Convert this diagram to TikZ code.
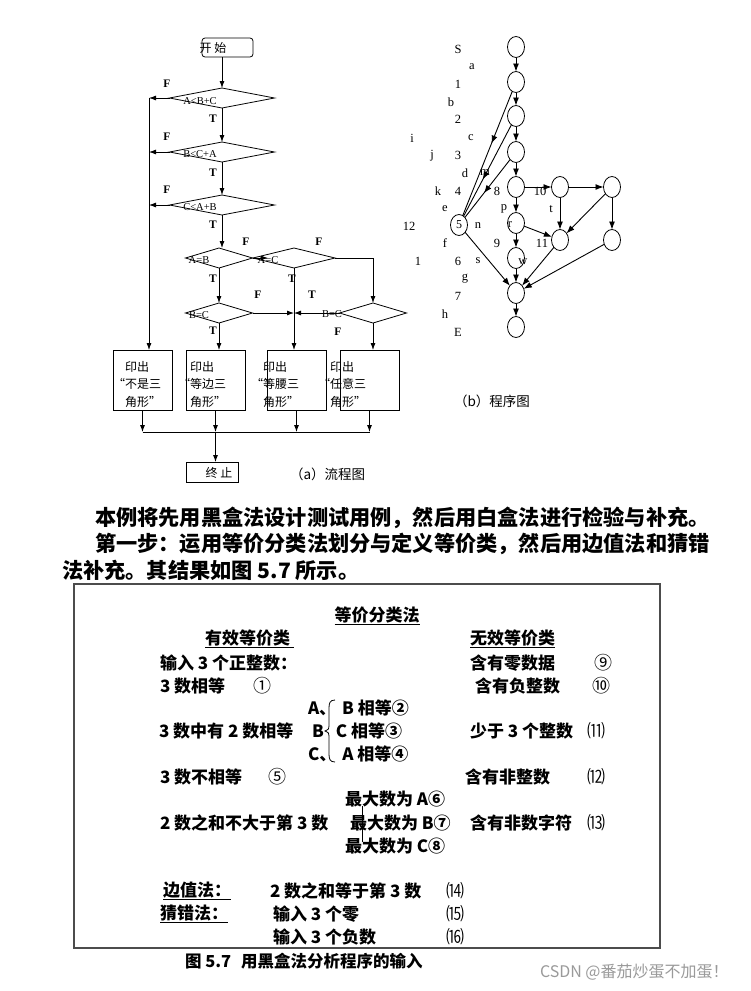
\documentclass[tikz,border=0pt]{standalone}
\usepackage{fontspec}
\setmainfont{Liberation Serif}
\newfontfamily\cjk{Noto Sans CJK SC}
\usetikzlibrary{arrows.meta,shapes.geometric,decorations.markings}
\definecolor{wmgray}{HTML}{9A9A9A}
\newcommand{\outtxt}[2]{印出\\\llap{“}#1\\#2”}

\begin{document}
\begin{tikzpicture}[x=1pt, y=-1pt,
  every node/.style={inner sep=0pt, outer sep=0pt},
  arr/.style={-{Latex[length=7pt,width=5pt]}, line width=0.8pt},
  garr/.style={-{Latex[length=8pt,width=6pt]}, line width=0.9pt},
  midarr/.style={line width=0.9pt, postaction={decorate}, decoration={markings, mark=at position #1 with {\arrow{Latex[length=8pt,width=6pt]}}}},
  cond/.style={draw, diamond, minimum width=#1, minimum height=20pt, line width=0.8pt},
  outbox/.style={draw, minimum width=59pt, minimum height=60pt, line width=0.8pt},
  gnode/.style={draw, ellipse, minimum width=17pt, minimum height=21pt, line width=0.8pt, font=\fontsize{12}{12}\selectfont},
  ctext/.style={font=\fontsize{10.5}{10.5}\selectfont},
  ft/.style={font=\bfseries\fontsize{11.5}{11.5}\selectfont},
  glbl/.style={font=\fontsize{12.5}{12.5}\selectfont},
  fctext/.style={font=\cjk\fontsize{12}{17.5}\selectfont, align=left},
  bodytxt/.style={font=\cjk\bfseries\fontsize{21.2}{24}\selectfont, anchor=west},
  tabtxt/.style={font=\cjk\bfseries\fontsize{17}{20}\selectfont, anchor=west},
  num/.style={font=\cjk\fontsize{18}{20}\selectfont},
]
\fill[white] (0,0) rectangle (750,991);
\useasboundingbox (0,0) rectangle (750,991);

% Flow chart (a)
\node[draw, rounded corners=3pt, minimum width=51pt, minimum height=19pt, line width=0.8pt] (st) at (227.5,47.5) {};
\node[fctext] (stt) at (213,47.5) {开\ 始};

\node[cond=105pt] (d1) at (222,98) {};
\node[cond=105pt] (d2) at (222,152) {};
\node[cond=105pt] (d3) at (222,205) {};
\node[cond=67pt]  (d4) at (219,258) {};
\node[cond=82pt]  (d6) at (294,258) {};
\node[cond=67pt]  (d5) at (219,313) {};
\node[cond=67pt]  (d7) at (373,313) {};

\node[ctext] (c1) at (200,101) {A<B+C};
\node[ctext] (c2) at (200,154) {B<C+A};
\node[ctext] (c3) at (200,207) {C<A+B};
\node[ctext] (c4) at (199,260) {A=B};
\node[ctext] (c6) at (268,260) {A=C};
\node[ctext] (c5) at (199,315) {B=C};
\node[ctext] (c7) at (332,314) {B=C};

% Output boxes
\node[outbox] (b1) at (142.5,380) {};
\node[outbox] (b2) at (215.5,380) {};
\node[outbox] (b3) at (296.5,380) {};
\node[outbox] (b4) at (369.5,380) {};
\node[fctext, anchor=west] (t1) at (125,384) {\outtxt{不是三}{角形}};
\node[fctext, anchor=west] (t2) at (190,384) {\outtxt{等边三}{角形}};
\node[fctext, anchor=west] (t3) at (263,384) {\outtxt{等腰三}{角形}};
\node[fctext, anchor=west] (t4) at (330,384) {\outtxt{任意三}{角形}};

\node[draw, minimum width=52pt, minimum height=20pt, line width=0.8pt] (en) at (212,472) {};
\node[fctext] (ent) at (219,473) {终\ 止};
\node[font=\cjk\fontsize{13.5}{14}\selectfont, anchor=west] (capa) at (290,474) {（a）流程图};

% Arrows of the chart
\coordinate (lf) at (149,98);
\coordinate (ac) at (268,258);
\coordinate (jn) at (215.5,432);
\draw[arr] (d1.north |- st.south) -- (d1.north);
\draw[arr] (d1.south) -- (d2.north);
\draw[arr] (d2.south) -- (d3.north);
\draw[arr] (d3.south) -- (d3.south |- d4.north);
\draw[arr] (d1.west) -- (d1.west -| lf);
\draw[arr] (d2.west) -- (d2.west -| lf);
\draw[arr] (d3.west) -- (d3.west -| lf);
\draw[arr] (lf) -- (lf |- b1.north);
\draw[arr] (d4.east) -- (ac);
\draw[arr] (d4.south) -- (d5.north);
\draw[arr] (d6.east) -| (d7.north);
\draw[arr] (d5.east) -- (d5.east -| d6.south);
\draw[arr] (d7.west) -- (d7.west -| d6.south);
\draw[arr] (d6.south) -- (d6.south |- b3.north);
\draw[arr] (d5.south) -- (d5.south |- b2.north);
\draw[arr] (d7.south) -- (d7.south |- b4.north);
\draw[arr] (b1.south) -- (b1.south |- jn);
\draw[arr] (b2.south) -- (jn);
\draw[arr] (b3.south) -- (b3.south |- jn);
\draw[arr] (b4.south) -- (b4.south |- jn);
\draw[line width=0.8pt] (b1.south |- jn) -- (b4.south |- jn);
\draw[arr] (jn) -- (jn |- en.north);

% T / F labels
\node[ft] (f1) at (167,84) {F};
\node[ft] (f2) at (167,137) {F};
\node[ft] (f3) at (167,190) {F};
\node[ft] (y1) at (213,119) {T};
\node[ft] (y2) at (213,173) {T};
\node[ft] (y3) at (213,225) {T};
\node[ft] (f4) at (246,242) {F};
\node[ft] (f5) at (319,242) {F};
\node[ft] (y4) at (213,279) {T};
\node[ft] (y5) at (292,279) {T};
\node[ft] (f6) at (258,295) {F};
\node[ft] (y6) at (312,295) {T};
\node[ft] (y7) at (213,331) {T};
\node[ft] (f7) at (338,332) {F};

% Program graph (b)
\node[gnode] (gS)  at (516,47) {};
\node[gnode] (g1)  at (516,82) {};
\node[gnode] (g2)  at (516,116) {};
\node[gnode] (g3)  at (516,152) {};
\node[gnode] (g8)  at (516,187) {};
\node[gnode] (g10) at (560,187) {};
\node[gnode] (gQ)  at (612,187) {};
\node[gnode] (g5)  at (459,225) {5};
\node[gnode] (gR)  at (516,223) {};
\node[gnode] (g11) at (560,240) {};
\node[gnode] (gT)  at (612,240) {};
\node[gnode] (gW)  at (516,258) {};
\node[gnode] (g7)  at (516,293) {};
\node[gnode] (gE)  at (516,327) {};

\draw[garr] (gS) -- (g1);
\draw[garr] (g1) -- (g2);
\draw[garr] (g2) -- (g3);
\draw[garr] (g3) -- (g8);
\draw[garr] (g8) -- (gR);
\draw[garr] (gR) -- (gW);
\draw[garr] (gW) -- (g7);
\draw[garr] (g7) -- (gE);
\draw[garr] (g8) -- (g10);
\draw[garr] (g10) -- (gQ);
\draw[garr] (g10) -- (g11);
\draw[garr] (gQ) -- (g11);
\draw[garr] (gQ) -- (gT);
\draw[garr] (gR) -- (g11);
\draw[garr] (g11) -- (g7);
\draw[garr] (gT) -- (g7);
\draw[garr] (g5) -- (g7);
\draw[midarr=0.42] (g1) -- (g5);
\draw[midarr=0.6] (g2) -- (g5);
\draw[midarr=0.58] (g3) -- (g5);

\node[glbl] (lS) at (458,49) {S};
\node[glbl] (la) at (472,67) {a};
\node[glbl] (l1) at (458,84) {1};
\node[glbl] (lb) at (451,102) {b};
\node[glbl] (l2) at (458,119) {2};
\node[glbl] (li) at (412,138) {i};
\node[glbl] (lc) at (471,138) {c};
\node[glbl] (lj) at (432,156) {j};
\node[glbl] (l3) at (458,155) {3};
\node[glbl] (ld) at (465,173) {d};
\node[glbl] (lm) at (485,173) {m};
\node[glbl] (lk) at (438,191) {k};
\node[glbl] (l4) at (458,191) {4};
\node[glbl] (l8) at (497,191) {8};
\node[glbl] (l10) at (540,191) {10};
\node[glbl] (le) at (445,209) {e};
\node[glbl] (lp) at (504,209) {p};
\node[glbl] (lt) at (551,209) {t};
\node[glbl] (l12) at (409,226) {12};
\node[glbl] (ln) at (478,226) {n};
\node[glbl] (lr) at (510,225) {r};
\node[glbl] (lf2) at (445,243) {f};
\node[glbl] (l9) at (497,243) {9};
\node[glbl] (l11) at (542,243) {11};
\node[glbl] (ll) at (418,261) {1};
\node[glbl] (l6) at (458,261) {6};
\node[glbl] (ls) at (478,261) {s};
\node[glbl] (lw) at (523,262) {w};
\node[glbl] (lg) at (465,279) {g};
\node[glbl] (l7) at (458,296) {7};
\node[glbl] (lh) at (445,314) {h};
\node[glbl] (lE) at (458,332) {E};
\node[font=\cjk\fontsize{13.5}{14}\selectfont, anchor=west] (capb) at (454,401) {（b）程序图};

% Body text
\node[bodytxt] (p1) at (95,518) {本例将先用黑盒法设计测试用例，然后用白盒法进行检验与补充。};
\node[bodytxt] (p2) at (95,544) {第一步：运用等价分类法划分与定义等价类，然后用边值法和猜错};
\node[bodytxt] (p3) at (62,570) {法补充。其结果如图 5.7 所示。};

% Table of classes
\draw[line width=1.2pt, draw=black!70] (74,584) rectangle (660,948);
\node[tabtxt, anchor=center] (h0) at (377,616) {\underline{等价分类法}};
\node[tabtxt] (h1) at (205,639) {\underline{有效等价类\ }};
\node[tabtxt] (h2) at (470,639) {\underline{无效等价类}};

\node[tabtxt] (v1) at (160,663) {输入 3 个正整数：};
\node[tabtxt] (v2) at (160,686) {3 数相等};
\node[num] (n1) at (262,686) {①};
\node[tabtxt] (v3a) at (308,708) {A、\hspace{6pt}B 相等②};
\node[tabtxt] (v3) at (159,731) {3 数中有 2 数相等};
\node[tabtxt] (v3b) at (312,731) {B\hspace{12pt}C 相等③};
\node[tabtxt] (v3c) at (308,754) {C、\hspace{6pt}A 相等④};
\node[tabtxt] (v4) at (160,777) {3 数不相等};
\node[num] (n5) at (277,777) {⑤};
\node[tabtxt] (v5a) at (345,799) {最大数为 A⑥};
\node[tabtxt] (v5) at (160,823) {2 数之和不大于第 3 数};
\node[tabtxt] (v5b) at (350,823) {最大数为 B⑦};
\node[tabtxt] (v5c) at (345,846) {最大数为 C⑧};

\node[tabtxt] (w1) at (470,663) {含有零数据};
\node[num] (n9) at (603,663) {⑨};
\node[tabtxt] (w2) at (475,686) {含有负整数};
\node[num] (n10) at (601,686) {⑩};
\node[tabtxt] (w3) at (470,731) {少于 3 个整数};
\node[num] (n11) at (596,731) {⑾};
\node[tabtxt] (w4) at (465,777) {含有非整数};
\node[num] (n12) at (596,777) {⑿};
\node[tabtxt] (w5) at (470,823) {含有非数字符};
\node[num] (n13) at (596,823) {⒀};

\node[tabtxt] (e1) at (163,891) {\underline{边值法：}};
\node[tabtxt] (e2) at (270,891) {2 数之和等于第 3 数};
\node[num] (n14) at (455,891) {⒁};
\node[tabtxt] (e3) at (160,914) {\underline{猜错法：}};
\node[tabtxt] (e4) at (273,914) {输入 3 个零};
\node[num] (n15) at (455,914) {⒂};
\node[tabtxt] (e5) at (273,937) {输入 3 个负数};
\node[num] (n16) at (455,937) {⒃};

% Brace and bar
\draw[line width=0.8pt] (335,700) .. controls (330,700) and (329,703) .. (329,708) -- (329,726) .. controls (329,729) .. (325,731) .. controls (329,733) .. (329,736) -- (329,754) .. controls (329,759) and (330,762) .. (335,762);
\draw[line width=0.8pt] (362,806) -- (362,842);

% Caption and mark
\node[font=\cjk\bfseries\fontsize{16.5}{18}\selectfont, anchor=west] (cap) at (185,961) {图 5.7\hspace{10pt}用黑盒法分析程序的输入};
\node[font=\cjk\fontsize{16}{18}\selectfont, text=wmgray, anchor=west] (wm) at (540,972) {CSDN @番茄炒蛋不加蛋！};

\end{tikzpicture}
\end{document}
